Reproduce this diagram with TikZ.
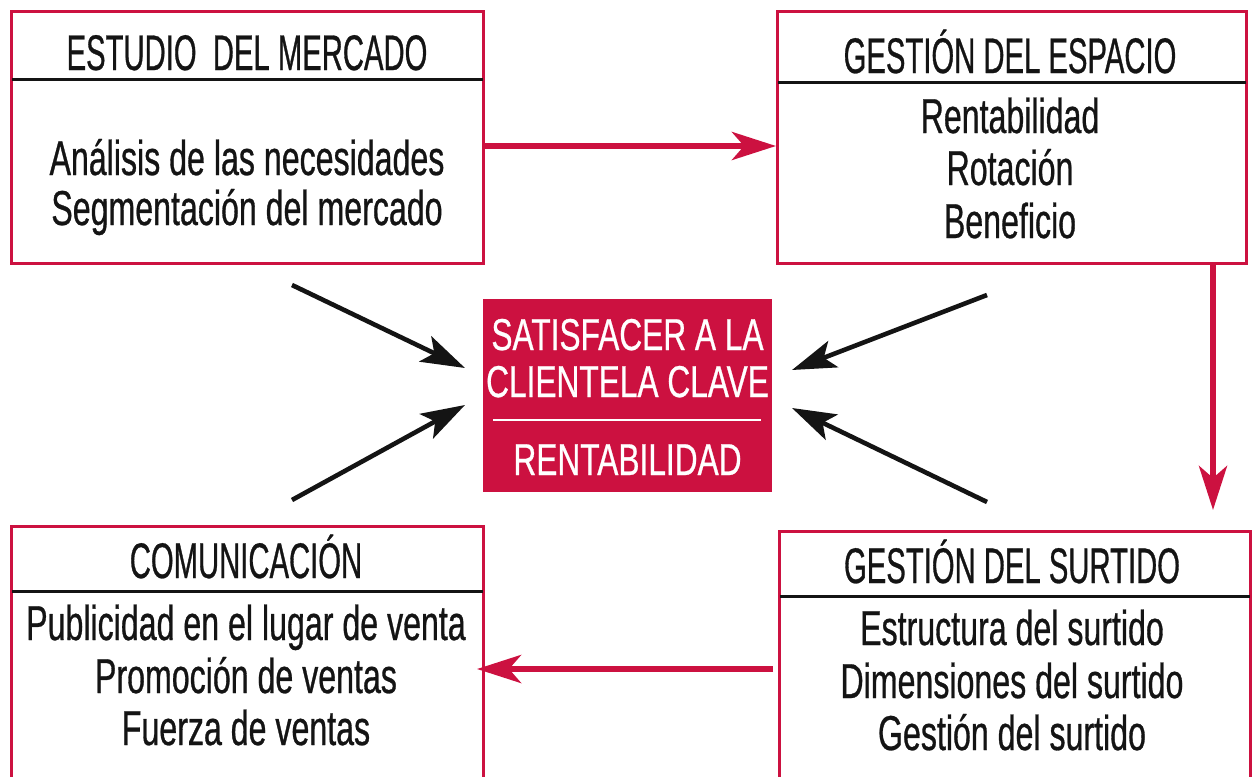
\documentclass[tikz,border=0pt]{standalone}
\usepackage{fontspec}
\setmainfont{Liberation Sans}
\newfontfamily\titlef[FakeStretch=0.585,FakeBold=0.6]{Liberation Sans}
\newfontfamily\bodyf[FakeStretch=0.656,FakeBold=0.6]{Liberation Sans}
\newfontfamily\centf[FakeStretch=0.71,FakeBold=0.6]{Liberation Sans}
\usetikzlibrary{arrows.meta,calc}
\definecolor{rojo}{HTML}{CC1140}
\definecolor{tinta}{HTML}{141414}
\begin{document}
\begin{tikzpicture}[x=0.5pt,y=-0.5pt,
  box/.style={draw=rojo,line width=1.5pt,rectangle,anchor=north west,inner sep=0pt},
  centrebox/.style={fill=rojo,rectangle,anchor=north west,inner sep=0pt},
  ttl/.style={anchor=base,inner sep=0pt,text=tinta,font=\titlef\fontsize{25pt}{30pt}\selectfont},
  bdy/.style={anchor=base,inner sep=0pt,text=tinta,font=\bodyf\fontsize{24.5pt}{30pt}\selectfont},
  ctr/.style={anchor=base,inner sep=0pt,text=white,font=\centf\fontsize{22.3pt}{26pt}\selectfont},
  rule/.style={line width=1.5pt,draw=tinta},
  redarrow/.style={draw=rojo,line width=3pt,-{Stealth[length=22pt,width=14pt,inset=6pt]}},
  blkarrow/.style={draw=tinta,line width=2.3pt,-{Stealth[length=22pt,width=14pt,inset=5pt]}}
]
\useasboundingbox (0,0) rectangle (1252,776);

% boxes
\node[box,minimum width=236pt,minimum height=126pt] (b1) at (10,10) {};
\node[box,minimum width=234.5pt,minimum height=126pt] (b2) at (776,10) {};
\node[centrebox,minimum width=144.5pt,minimum height=96.5pt] (c) at (483,299) {};
\node[box,minimum width=236pt,minimum height=132.5pt] (b3) at (10,525) {};
\node[box,minimum width=235.5pt,minimum height=130pt] (b4) at (778,530) {};

% header rules
\draw[rule] ($(b1.north west)+(2,69)$) -- ($(b1.north east)+(-2,69)$);
\draw[rule] ($(b2.north west)+(2,72)$) -- ($(b2.north east)+(-2,72)$);
\draw[rule] ($(b3.north west)+(2,66)$) -- ($(b3.north east)+(-2,66)$);
\draw[rule] ($(b4.north west)+(2,66)$) -- ($(b4.north east)+(-2,66)$);

% box 1
\node[ttl] (t1) at (247,70) {ESTUDIO\ \ DEL MERCADO};
\node[bdy] (t1a) at (247,175) {Análisis de las necesidades};
\node[bdy] (t1b) at (247,225) {Segmentación del mercado};

% box 2
\node[ttl] (t2) at (1010,73) {GESTIÓN DEL ESPACIO};
\node[bdy] (t2a) at (1010,133) {Rentabilidad};
\node[bdy] (t2b) at (1010,185) {Rotación};
\node[bdy] (t2c) at (1010,238) {Beneficio};

% centre
\node[ctr] (tc1) at (627.5,350) {SATISFACER A LA};
\node[ctr] (tc2) at (627.5,397) {CLIENTELA CLAVE};
\draw[white,line width=1pt] ($(c.north west)+(10,121)$) -- ($(c.north east)+(-12,121)$);
\node[ctr] (tc3) at (627.5,475) {RENTABILIDAD};

% box 3
\node[ttl] (t3) at (246,578) {COMUNICACIÓN};
\node[bdy] (t3a) at (246,640) {Publicidad en el lugar de venta};
\node[bdy] (t3b) at (246,693) {Promoción de ventas};
\node[bdy] (t3c) at (246,745) {Fuerza de ventas};

% box 4
\node[ttl] (t4) at (1012,583) {GESTIÓN DEL SURTIDO};
\node[bdy] (t4a) at (1012,645) {Estructura del surtido};
\node[bdy] (t4b) at (1012,698) {Dimensiones del surtido};
\node[bdy] (t4c) at (1012,750) {Gestión del surtido};

% red connectors
\draw[redarrow] ($(b1.north east)+(0,136)$) -- ($(b2.north west)+(0,136)$);
\coordinate (dtip) at (1213,510);
\draw[redarrow] (b2.south -| dtip) -- (dtip);
\draw[redarrow] ($(b4.north west)+(-5,139)$) -- ($(b3.north east)+(-8,144)$);

% black connectors
\coordinate (k1s) at (292,285);
\coordinate (k1e) at (465,368);
\coordinate (k2s) at (292,500);
\coordinate (k2e) at (465,405);
\coordinate (k3s) at (987,295);
\coordinate (k3e) at (792,370);
\coordinate (k4s) at (987,502);
\coordinate (k4e) at (792,408);
\draw[blkarrow] (k1s) -- (k1e);
\draw[blkarrow] (k2s) -- (k2e);
\draw[blkarrow] (k3s) -- (k3e);
\draw[blkarrow] (k4s) -- (k4e);
\end{tikzpicture}
\end{document}
